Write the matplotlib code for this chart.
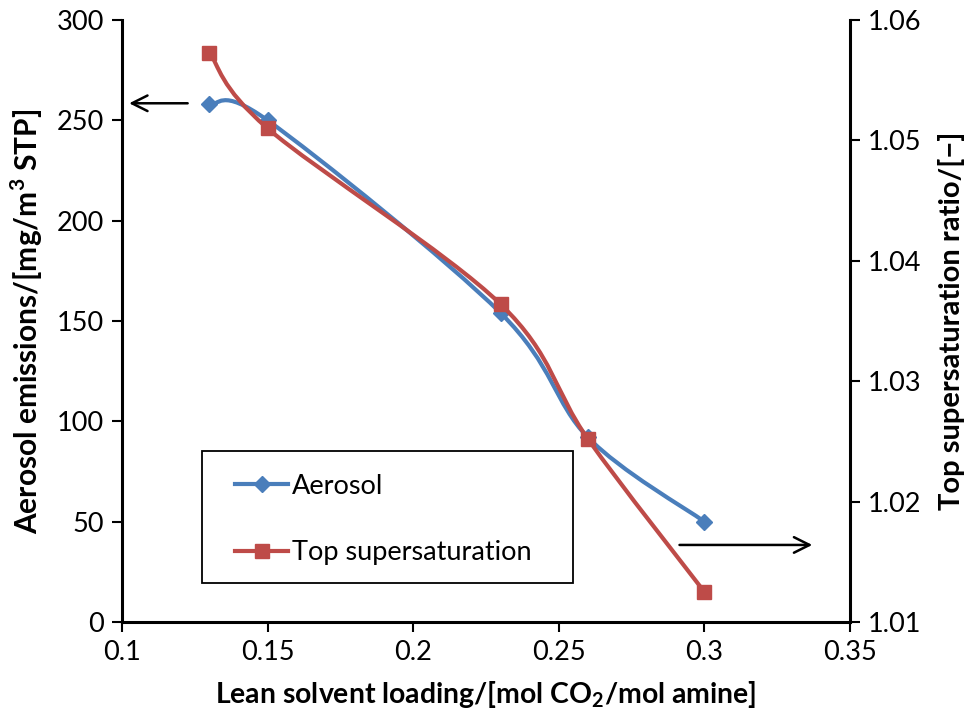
import numpy as np
import matplotlib
matplotlib.use("Agg")
import matplotlib.pyplot as plt
from matplotlib.path import Path
from matplotlib.patches import PathPatch, Rectangle

plt.rcParams['font.family'] = ['Lato', 'DejaVu Sans']

loading = [0.13, 0.15, 0.23, 0.26, 0.30]
aerosol = [258, 250, 154, 92, 50]
supersat = [1.0573, 1.0510, 1.0364, 1.0252, 1.0125]

blue = '#4A7EBB'
red = '#BE4B48'

fig = plt.figure(figsize=(9.77, 7.25), dpi=100)
ax = fig.add_axes([122/977, 1 - 622/725, (850-122)/977, (622-20)/725])
ax2 = ax.twinx()

ax.set_xlim(0.1, 0.35)
ax.set_ylim(0, 300)
ax2.set_ylim(1.01, 1.06)
ax.set_xticks([0.1, 0.15, 0.2, 0.25, 0.3, 0.35])
ax.set_xticklabels(['0.1', '0.15', '0.2', '0.25', '0.3', '0.35'])
ax.set_yticks(range(0, 301, 50))
ax2.set_yticks([1.01, 1.02, 1.03, 1.04, 1.05, 1.06])
ax2.set_yticklabels(['1.01', '1.02', '1.03', '1.04', '1.05', '1.06'])

for a in (ax, ax2):
    a.spines['top'].set_visible(False)
    for s in a.spines.values():
        s.set_linewidth(2.2)
    a.tick_params(labelsize=19.5, width=1.5, length=7, direction='out', pad=6)
ax.spines['right'].set_visible(False)
ax2.spines['left'].set_visible(False)
ax2.spines['bottom'].set_visible(False)


def smooth_path(a, xs, ys):
    """Bezier spline through points, built in display space (Excel-style smoothing)."""
    pts = a.transData.transform(np.column_stack([xs, ys]))
    n = len(pts)
    verts = [pts[0]]
    codes = [Path.MOVETO]
    for i in range(n - 1):
        p0 = pts[i - 1] if i > 0 else pts[i]
        p1 = pts[i]
        p2 = pts[i + 1]
        p3 = pts[i + 2] if i + 2 < n else pts[i + 1]
        c1 = p1 + (p2 - p0) / 6
        c2 = p2 - (p3 - p1) / 6
        verts += [c1, c2, p2]
        codes += [Path.CURVE4] * 3
    verts = a.transData.inverted().transform(np.array(verts))
    return Path(verts, codes)


fig.canvas.draw()
pa = PathPatch(smooth_path(ax, loading, aerosol), facecolor='none', edgecolor=blue,
               lw=3.0, capstyle='round', joinstyle='round', zorder=3)
ax.add_patch(pa)
ax.plot(loading, aerosol, linestyle='none', marker='D', ms=8, color=blue, zorder=4)

ps = PathPatch(smooth_path(ax2, loading, supersat), facecolor='none', edgecolor=red,
               lw=3.0, capstyle='round', joinstyle='round', zorder=3)
ax2.add_patch(ps)
ax2.plot(loading, supersat, linestyle='none', marker='s', ms=10, color=red, zorder=4)

# legend: frame drawn as a separate rectangle, entries placed inside it
ax2.add_patch(Rectangle((0.1099, 0.0648), 0.5096, 0.2193, transform=ax2.transAxes,
                        facecolor='white', edgecolor='black', lw=1.3, zorder=5))
h1, = ax.plot([], [], color=blue, lw=3.0, marker='D', ms=8, label='Aerosol')
h2, = ax.plot([], [], color=red, lw=3.0, marker='s', ms=10, label='Top supersaturation')
leg = ax2.legend(handles=[h1, h2], loc='upper left', bbox_to_anchor=(0.1552, 0.2459),
                 fontsize=19.5, frameon=False, labelspacing=1.53, handlelength=1.96,
                 handletextpad=0.15, borderpad=0, borderaxespad=0)
leg.set_zorder(6)

# arrows pointing to the corresponding axes
ax.annotate('', xy=(0.1015, 258.5), xytext=(0.1235, 258.5),
            arrowprops=dict(arrowstyle='->', lw=1.8, color='black', mutation_scale=28))
ax.annotate('', xy=(0.338, 38.4), xytext=(0.2905, 38.4),
            arrowprops=dict(arrowstyle='->', lw=1.8, color='black', mutation_scale=28))

ax.set_xlabel('Lean solvent loading/[mol CO$_\\mathregular{2}$/mol amine]',
              fontsize=20.4, fontweight='bold', labelpad=10)
ax.set_ylabel('Aerosol emissions/[mg/m$^\\mathregular{3}$ STP]',
              fontsize=21.5, fontweight='bold', labelpad=8)
ax2.set_ylabel('Top supersaturation ratio/[\u2212]', fontsize=21, fontweight='bold',
               labelpad=12)

fig.savefig('out.png', dpi=100)
